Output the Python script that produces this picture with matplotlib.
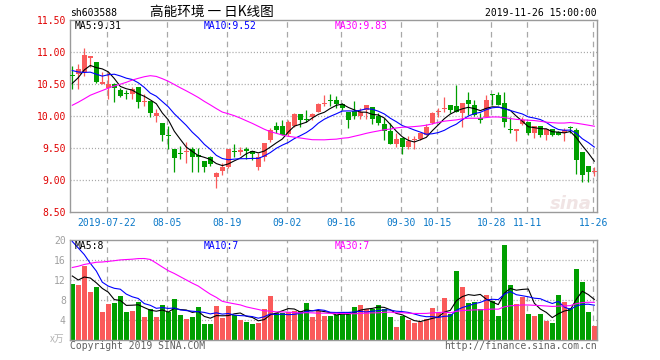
import numpy as np
import matplotlib
matplotlib.use('Agg')
import matplotlib.pyplot as plt

plt.rcParams['font.family'] = ['DejaVu Sans Mono']
plt.rcParams['lines.scale_dashes'] = False

# ---------------- data ----------------
x_labels = ['2019-07-22', '08-05', '08-19', '09-02', '09-16', '09-30', '10-15', '10-28', '11-11', '11-26']
x_label_idx = [6, 16, 26, 36, 45, 55, 61, 70, 76, 87]

opens = [10.64, 10.65, 10.69, 10.90, 10.84, 10.50, 10.43, 10.50, 10.41, 10.36,
         10.35, 10.45, 10.22, 10.24, 9.995, 9.89, 9.69, 9.49, 9.42, 9.43,
         9.49, 9.39, 9.29, 9.365, 9.04, 9.14, 9.20, 9.45, 9.43, 9.49,
         9.45, 9.21, 9.36, 9.62, 9.84, 9.84, 9.72, 9.85, 10.03, 9.945,
         9.985, 10.06, 10.19, 10.24, 10.25, 10.18, 10.07, 10.08, 10.005, 10.10,
         10.14, 10.005, 9.87, 9.77, 9.57, 9.65, 9.52, 9.63, 9.64, 9.71,
         9.885, 10.06, 10.11, 10.17, 10.16, 10.04, 10.25, 10.17, 9.97, 9.98,
         10.34, 10.33, 10.20, 9.79, 9.76, 9.875, 9.91, 9.73, 9.84, 9.70,
         9.79, 9.755, 9.73, 9.82, 9.78, 9.43, 9.22, 9.13]
highs = [10.78, 10.82, 11.06, 10.94, 10.84, 10.69, 10.69, 10.51, 10.44, 10.41,
         10.46, 10.45, 10.35, 10.24, 10.11, 9.89, 9.84, 9.49, 9.53, 9.59,
         9.52, 9.50, 9.29, 9.37, 9.12, 9.27, 9.49, 9.56, 9.51, 9.51,
         9.45, 9.42, 9.58, 9.82, 9.91, 9.94, 9.93, 10.05, 10.03, 10.09,
         10.04, 10.21, 10.33, 10.35, 10.31, 10.21, 10.07, 10.23, 10.13, 10.17,
         10.14, 10.04, 9.97, 9.885, 9.73, 9.65, 9.68, 9.68, 9.73, 9.87,
         10.06, 10.13, 10.30, 10.17, 10.48, 10.21, 10.38, 10.25, 10.04, 10.33,
         10.35, 10.38, 10.38, 9.99, 9.80, 9.98, 9.91, 9.84, 9.84, 9.79,
         9.79, 9.76, 9.81, 9.84, 9.81, 9.43, 9.22, 9.20]
lows = [10.42, 10.42, 10.63, 10.77, 10.52, 10.50, 10.27, 10.22, 10.29, 10.26,
        10.26, 10.13, 10.15, 9.99, 9.91, 9.61, 9.49, 9.13, 9.33, 9.26,
        9.13, 9.13, 9.13, 9.22, 8.87, 9.08, 9.19, 9.36, 9.39, 9.33,
        9.31, 9.15, 9.30, 9.60, 9.73, 9.70, 9.68, 9.83, 9.83, 9.90,
        9.94, 10.06, 10.15, 10.16, 10.12, 10.10, 9.81, 9.96, 9.96, 9.96,
        9.87, 9.86, 9.625, 9.56, 9.52, 9.41, 9.48, 9.49, 9.63, 9.71,
        9.87, 9.99, 10.07, 10.05, 10.07, 9.83, 10.02, 10.00, 9.89, 9.98,
        10.17, 10.17, 9.83, 9.73, 9.61, 9.86, 9.71, 9.66, 9.67, 9.625,
        9.69, 9.70, 9.61, 9.74, 9.09, 8.97, 8.97, 9.07]
closes = [10.63, 10.73, 10.95, 10.94, 10.53, 10.53, 10.50, 10.43, 10.32, 10.35,
          10.42, 10.22, 10.23, 10.04, 10.05, 9.70, 9.68, 9.34, 9.41, 9.44,
          9.36, 9.36, 9.20, 9.25, 9.115, 9.20, 9.49, 9.44, 9.47, 9.45,
          9.40, 9.36, 9.58, 9.78, 9.78, 9.70, 9.91, 10.035, 9.93, 9.935,
          10.035, 10.19, 10.20, 10.23, 10.18, 10.13, 9.93, 10.005, 10.06, 10.17,
          9.96, 9.885, 9.77, 9.56, 9.64, 9.52, 9.61, 9.64, 9.73, 9.83,
          10.04, 10.07, 10.12, 10.09, 10.07, 10.21, 10.19, 10.02, 9.93, 10.25,
          10.33, 10.17, 9.91, 9.78, 9.80, 9.94, 9.73, 9.84, 9.70, 9.79,
          9.71, 9.70, 9.78, 9.81, 9.31, 9.08, 9.13, 9.14]
volumes = [11.2, 11.0, 14.8, 9.6, 10.6, 5.6, 7.2, 7.4, 8.8, 5.6,
           5.8, 7.6, 4.6, 6.2, 4.6, 7.0, 5.6, 8.2, 5.0, 4.2,
           4.6, 6.6, 3.2, 3.2, 6.8, 4.4, 6.8, 5.0, 4.0, 3.6,
           3.2, 3.4, 6.2, 8.8, 5.4, 5.4, 5.6, 5.8, 5.8, 7.4,
           4.6, 5.8, 4.8, 4.8, 5.0, 5.6, 5.6, 6.6, 7.0, 6.2,
           6.2, 7.0, 6.2, 4.6, 2.6, 4.8, 4.0, 3.4, 3.6, 4.2,
           6.4, 5.4, 8.4, 5.2, 13.8, 10.6, 7.4, 7.6, 6.2, 9.0,
           7.8, 4.8, 19.0, 11.0, 7.2, 8.6, 5.2, 4.8, 5.2, 3.8,
           3.4, 9.0, 7.6, 6.4, 14.2, 11.6, 5.6, 2.8]

# sessions before the visible window (needed for the moving averages)
prior_closes = [9.30, 9.35, 9.28, 9.40, 9.45, 9.38, 9.42, 9.50, 9.44, 9.36,
                9.42, 9.48, 9.55, 10.40, 10.75, 10.90, 10.85, 10.95, 10.88, 10.88,
                10.95, 11.02, 10.90, 10.85, 10.83, 10.28, 10.35, 10.59, 10.70]
prior_volumes = [3.5, 4.0, 3.2, 3.8, 4.1, 3.3, 3.6, 3.9, 3.4, 3.7,
                 4.0, 4.1, 12.0, 26.5, 30.2, 27.8, 25.0, 24.4, 23.5, 24.0,
                 24.0, 28.0, 27.0, 26.0, 28.0, 15.0, 11.8, 10.6, 15.4]

price_ticks = [11.5, 11.0, 10.5, 10.0, 9.5, 9.0, 8.5]
vol_ticks = [20, 16, 12, 8, 4]
ma_labels = ['MA5:9.31', 'MA10:9.52', 'MA30:9.83']
vol_ma_labels = ['MA5:8', 'MA10:7', 'MA30:7']
ma_periods = [5, 10, 30]

# ---------------- style ----------------
W, H = 660, 360
RED = '#fa5a5a'
GREEN = '#009f00'
MA_COLORS = ['#000000', '#0000ff', '#ff00ff']
FRAME = '#9a9a9a'
GRID = '#a8a8a8'
FS = 7.05

fig = plt.figure(figsize=(W / 100, H / 100), dpi=100)

def fx(x):
    return x / W

def fy(y):
    return 1 - y / H

ax = fig.add_axes([fx(70), fy(212), (597 - 70) / W, (212 - 20) / H])
axv = fig.add_axes([fx(70), fy(340), (597 - 70) / W, (340 - 240) / H])

n = len(closes)
idx = np.arange(n)
o = np.array(opens); h = np.array(highs); l = np.array(lows); c = np.array(closes)
v = np.array(volumes)
up = c >= o
colors = np.where(up, RED, GREEN)

def rolling(prior, data, p):
    full = np.concatenate([prior, data])
    out = np.convolve(full, np.ones(p) / p, mode='valid')
    return out[-len(data):]

xmin, xmax = -0.383, 87.45
grid_x = [k - 0.2 for k in x_label_idx]

for a in (ax, axv):
    a.set_xlim(xmin, xmax)
    for s in a.spines.values():
        s.set_color(FRAME)
        s.set_linewidth(1.0)
    for gx in grid_x:
        a.axvline(gx, color=GRID, lw=0.9, ls=(0, (4.0, 3.0)), zorder=0)

# ---- price panel ----
ax.set_ylim(8.5, 11.5)
for t in price_ticks[1:-1]:
    ax.axhline(t, color=GRID, lw=0.9, ls=(0, (0.8, 1.4)), zorder=0)

ax.vlines(idx, l, h, colors=colors, lw=0.9, zorder=2)
body_bottom = np.minimum(o, c)
body_h = np.maximum(np.abs(c - o), 0.016)
ax.bar(idx, body_h, bottom=body_bottom, width=0.82, color=colors, lw=0, zorder=3)

for p, col in zip(ma_periods, MA_COLORS):
    ax.plot(idx, rolling(prior_closes, closes, p), color=col, lw=0.8, zorder=4)

ax.set_yticks(price_ticks)
ax.set_yticklabels([f'{t:.2f}' for t in price_ticks], fontsize=FS, color='#e00000')
ax.set_xticks(grid_x)
ax.set_xticklabels(x_labels, fontsize=FS, color='#0a78c8')
ax.tick_params(axis='both', length=0)
ax.tick_params(axis='y', pad=3)
ax.tick_params(axis='x', pad=4)

for lab, col, x in zip(ma_labels, MA_COLORS, [75, 204, 335]):
    fig.text(fx(x), fy(26), lab, fontsize=FS, color=col, va='center', ha='left')

fig.text(fx(592), fy(204), 'sina', fontsize=13, color='#f0e4e4', style='italic',
         fontweight='bold', ha='right', va='center', family='DejaVu Sans', zorder=1)

# ---- volume panel ----
axv.set_ylim(0, 20)
for t in vol_ticks[1:]:
    axv.axhline(t, color=GRID, lw=0.9, ls=(0, (0.8, 1.4)), zorder=0)
axv.bar(idx, v, width=0.82, color=colors, lw=0, zorder=2)
for p, col in zip(ma_periods, MA_COLORS):
    axv.plot(idx, rolling(prior_volumes, volumes, p), color=col, lw=0.8, zorder=4)
axv.set_yticks(vol_ticks)
axv.set_yticklabels([str(t) for t in vol_ticks], fontsize=FS, color='#a0a0a0')
axv.set_xticks([])
axv.tick_params(axis='y', length=0, pad=3)

for lab, col, x in zip(vol_ma_labels, MA_COLORS, [75, 204, 335]):
    fig.text(fx(x), fy(246), lab, fontsize=FS, color=col, va='center', ha='left')

fig.text(fx(64), fy(339), 'x万', fontsize=FS, color='#b4b4b4', style='italic',
         ha='right', va='center', family=['Noto Sans CJK SC', 'DejaVu Sans'])

# ---- header / footer ----
fig.text(fx(70), fy(13), 'sh603588', fontsize=FS, color='#000000', va='center', ha='left')
fig.text(fx(150), fy(12), '高能环境 一 日K线图', fontsize=9.8, color='#000000', va='center', ha='left',
         family=['Noto Sans CJK SC', 'DejaVu Sans'])
fig.text(fx(597), fy(13), '2019-11-26 15:00:00', fontsize=FS, color='#000000', va='center', ha='right')
fig.text(fx(70), fy(346), 'Copyright 2019 SINA.COM', fontsize=FS, color='#606060', va='center', ha='left')
fig.text(fx(597), fy(346), 'http://finance.sina.com.cn', fontsize=FS, color='#606060', va='center', ha='right')

fig.savefig('out.png', dpi=100, facecolor='white')
